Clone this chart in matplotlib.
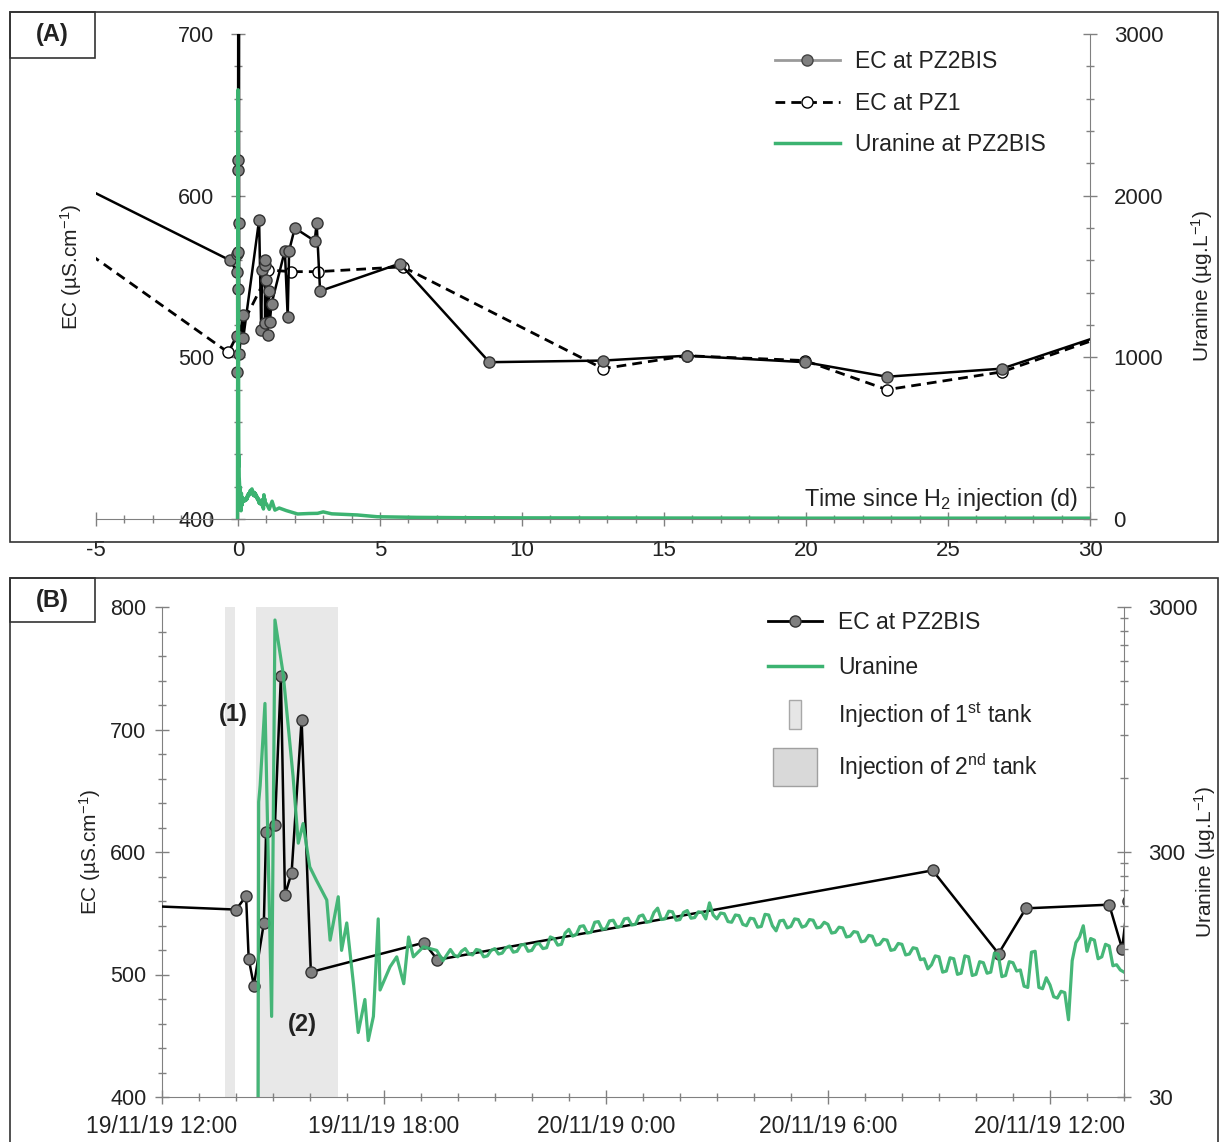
import numpy as np
import pandas as pd
import matplotlib
matplotlib.use('Agg')
import matplotlib.pyplot as plt
from matplotlib.patches import Rectangle
from matplotlib.lines import Line2D
from matplotlib.ticker import MultipleLocator, FixedLocator, FuncFormatter, NullFormatter
from matplotlib.legend_handler import HandlerPatch
import matplotlib.dates as mdates

plt.rcParams['font.family'] = ['Liberation Sans', 'DejaVu Sans']
plt.rcParams['mathtext.fontset'] = 'custom'
plt.rcParams['mathtext.rm'] = 'Liberation Sans'
plt.rcParams['mathtext.it'] = 'Liberation Sans:italic'
plt.rcParams['mathtext.bf'] = 'Liberation Sans:bold'
plt.rcParams['axes.unicode_minus'] = False

# ---------------- data ----------------
T0_B = pd.Timestamp('2019-11-19 12:00')   # origin of panel B (hours)
H2_START_H = 3.0                          # H2 injection, hours after T0_B

# EC at PZ2BIS, hours after T0_B (detailed record, panel B)
ec_pz2bis_h = [-3.7, 2.01, 2.28, 2.35, 2.49, 2.76, 2.82, 3.06, 3.22, 3.33, 3.51,
               3.78, 4.03, 7.09, 7.45, 20.83, 22.61, 23.35, 25.60, 25.95, 26.10]
ec_pz2bis_b = [560, 553, 564, 513, 491, 542, 616, 622, 744, 565, 583,
               708, 502, 526, 512, 585, 517, 554, 557, 521, 560]

# EC at PZ2BIS, days since H2 injection (before / after the detailed record)
ec_pz2bis_pre_d = [-7.0]
ec_pz2bis_pre = [619]
ec_pz2bis_post_d = [1.00, 1.04, 1.08, 1.12, 1.18, 1.65, 1.75, 1.80, 2.00, 2.70,
                    2.77, 2.89, 5.70, 8.85, 12.85, 15.80, 19.96, 22.85, 26.90, 31.0]
ec_pz2bis_post = [548, 514, 541, 522, 533, 566, 525, 566, 580, 572,
                  583, 541, 558, 497, 498, 501, 497, 488, 493, 517]

# EC at PZ1, days since H2 injection
ec_pz1_d = [-7.0, -0.34, 0.95, 1.07, 1.88, 2.82, 5.80, 12.85, 15.80, 19.96, 22.85, 26.90, 31.0]
ec_pz1 = [586, 503, 548, 554, 553, 553, 556, 493, 501, 498, 480, 491, 516]

# Uranine at PZ2BIS (ug/L), hours after T0_B: breakthrough, then logger record every 0.1 h
uran_peak_h = [2.60, 2.62, 2.66, 2.79, 2.97, 3.06, 3.28, 3.55, 3.69, 3.82, 4.00, 4.18,
               4.46, 4.55, 4.77, 4.86, 5.00, 5.18, 5.31, 5.49, 5.58, 5.72, 5.85, 5.90,
               6.17, 6.35, 6.54, 6.67, 6.80, 7.07, 7.43, 7.60]
uran_peak = [10, 480, 560, 1212, 64, 2655, 1608, 609, 326, 392, 261, 230,
             191, 131, 197, 119, 154, 87, 55, 75, 51, 64, 160, 82,
             102, 112, 87, 135, 112, 123, 119, 108]
uran_log_start_h, uran_log_step_h = 7.8, 0.1
uran_log = [120, 114, 112, 118, 121, 115, 114, 120, 119, 112, 113, 119, 121, 115, 116, 122,
            124, 117, 118, 125, 126, 118, 119, 126, 127, 121, 122, 135, 133, 125, 126, 140,
            145, 136, 138, 149, 150, 140, 141, 155, 156, 145, 146, 157, 158, 148, 149, 160,
            161, 151, 152, 164, 166, 155, 156, 170, 177, 159, 160, 172, 171, 158, 159, 170,
            173, 161, 162, 171, 170, 160, 186, 166, 160, 169, 168, 156, 155, 166, 165, 152,
            150, 161, 160, 148, 149, 167, 166, 150, 143, 157, 158, 147, 149, 160, 159, 148,
            150, 159, 158, 147, 148, 155, 152, 140, 141, 148, 147, 135, 136, 142, 141, 129,
            130, 137, 136, 125, 126, 132, 131, 119, 120, 127, 126, 114, 115, 122, 121, 109,
            110, 100, 104, 113, 112, 97, 98, 111, 110, 95, 96, 113, 112, 94, 95, 107,
            106, 96, 97, 116, 115, 93, 94, 107, 106, 98, 99, 85, 84, 117, 118, 84,
            83, 92, 86, 77, 76, 81, 80, 62, 108, 128, 135, 150, 118, 133, 131, 110,
            112, 126, 124, 103, 104, 99, 97]

# Uranine tail after the detailed record, days since H2 injection
uran_tail_d = [1.0, 1.1, 1.2, 1.3, 1.45, 1.7, 2.1, 2.5, 2.8, 3.0, 3.3, 3.8,
               4.2, 4.9, 5.5, 6.3, 8.0, 10.0, 15.0, 20.0, 25.0, 30.0]
uran_tail = [95, 60, 110, 55, 68, 52, 31, 34, 35, 44, 32, 28,
             25, 14, 12, 10, 8, 7, 6, 5, 5, 5]

# injection periods, hours after T0_B
tank1_h = (1.70, 1.98)
tank2_h = (2.55, 4.77)

GREEN = '#3cb371'
SPINE = '#808080'
TXT = '#222222'

uran_h = np.r_[uran_peak_h, uran_log_start_h + uran_log_step_h * np.arange(len(uran_log))]
uran = np.r_[uran_peak, uran_log]

W, H = 1226, 1142
fig = plt.figure(figsize=(W / 100, H / 100), dpi=100, facecolor='white')


def fbox(x0, y0, x1, y1):
    return [x0 / W, 1 - y1 / H, (x1 - x0) / W, (y1 - y0) / H]


# panel frames and labels
for (x0, y0, x1, y1) in [(10, 12, 1218, 542), (10, 578, 1218, 1160)]:
    fig.add_artist(Rectangle((x0 / W, 1 - y1 / H), (x1 - x0) / W, (y1 - y0) / H,
                             transform=fig.transFigure, fill=False, ec='#333333', lw=1.2))
for (x0, y0, x1, y1), lab in [((10, 12, 95, 58), '(A)'), ((10, 578, 95, 622), '(B)')]:
    fig.add_artist(Rectangle((x0 / W, 1 - y1 / H), (x1 - x0) / W, (y1 - y0) / H,
                             transform=fig.transFigure, fill=False, ec='#333333', lw=1.2))
    fig.text((x0 + x1) / 2 / W, 1 - (y0 + y1) / 2 / H, lab, ha='center', va='center',
             fontsize=17, fontweight='bold', color=TXT)


def style_ticks(ax, which_axes='both', size=16):
    ax.tick_params(axis=which_axes, which='major', direction='inout', length=10, width=1,
                   color=SPINE, labelcolor=TXT, labelsize=size)
    ax.tick_params(axis=which_axes, which='minor', direction='inout', length=6, width=1,
                   color=SPINE)


# ---------------- panel A ----------------
axA = fig.add_axes(fbox(96, 34, 1090, 519))
axA2 = axA.twinx()

h_arr = np.array(ec_pz2bis_h)
a_days = np.r_[ec_pz2bis_pre_d, (h_arr - H2_START_H) / 24.0, ec_pz2bis_post_d]
a_vals = np.r_[ec_pz2bis_pre, ec_pz2bis_b, ec_pz2bis_post]
axA.plot(a_days, a_vals, color='black', lw=1.8, marker='o', ms=8,
         mfc='#7f7f7f', mec='#333333', mew=1, zorder=3)
axA.plot(ec_pz1_d, ec_pz1, color='black', lw=2, ls=(0, (3.5, 2.2)), marker='o', ms=8,
         mfc='white', mec='black', mew=1, zorder=2)

u_days = np.r_[(uran_h - H2_START_H) / 24.0, uran_tail_d]
u_vals = np.r_[uran, uran_tail]
axA2.plot(u_days, u_vals, color=GREEN, lw=2.5)

axA.set_xlim(-5, 30)
axA.set_ylim(400, 700)
axA2.set_ylim(0, 3000)
axA.xaxis.set_major_locator(MultipleLocator(5))
axA.xaxis.set_minor_locator(MultipleLocator(1))
axA.yaxis.set_major_locator(MultipleLocator(100))
axA.yaxis.set_minor_locator(MultipleLocator(20))
axA2.yaxis.set_major_locator(MultipleLocator(1000))
axA2.yaxis.set_minor_locator(MultipleLocator(200))

axA.spines['left'].set_position(('data', 0))
for s in ['top', 'right']:
    axA.spines[s].set_visible(False)
for s in ['top', 'left', 'bottom']:
    axA2.spines[s].set_visible(False)
axA.spines['left'].set_color('#333333')
axA.spines['bottom'].set_color(SPINE)
axA2.spines['right'].set_color(SPINE)
style_ticks(axA)
style_ticks(axA2, 'y')
axA.tick_params(axis='y', which='major', pad=12, labelsize=15.5)
axA.tick_params(axis='x', which='major', pad=10)
axA2.tick_params(axis='y', which='major', pad=12)

axA.set_ylabel('EC (µS.cm$^{-1}$)', fontsize=15, color=TXT)
axA.yaxis.set_label_coords(-0.012, 0.52)
axA2.set_ylabel('Uranine (µg.L$^{-1}$)', fontsize=15, color=TXT)
axA2.yaxis.set_label_coords(1.1, 0.48)
axA.text(0.988, 0.041, 'Time since H$_2$ injection (d)', transform=axA.transAxes,
         ha='right', va='center', fontsize=16.8, color=TXT)

hA = [Line2D([], [], color='#9a9a9a', lw=2, marker='o', ms=8, mfc='#7f7f7f', mec='#444444'),
      Line2D([], [], color='black', lw=2, ls=(0, (3.5, 2.2)), marker='o', ms=8,
             mfc='white', mec='black'),
      Line2D([], [], color=GREEN, lw=2.5)]
legA = axA2.legend(hA, ['EC at PZ2BIS', 'EC at PZ1', 'Uranine at PZ2BIS'],
                   loc='upper left', bbox_to_anchor=(0.683, 0.966), frameon=False,
                   fontsize=16.5, handlelength=2.84, handletextpad=0.65, labelspacing=0.8,
                   borderpad=0, borderaxespad=0)
for t in legA.get_texts():
    t.set_color(TXT)

# ---------------- panel B ----------------
axB = fig.add_axes(fbox(161.7, 607, 1124, 1097))
axB2 = axB.twinx()


def to_time(hours):
    return (T0_B + pd.to_timedelta(np.asarray(hours, dtype=float), unit='h')).to_numpy()


axB.axvspan(to_time([tank1_h[0]])[0], to_time([tank1_h[1]])[0], color='#e8e8e8', zorder=0, lw=0)
axB.axvspan(to_time([tank2_h[0]])[0], to_time([tank2_h[1]])[0], color='#e8e8e8', zorder=0, lw=0)
axB.plot(to_time(ec_pz2bis_h), ec_pz2bis_b, color='black', lw=1.8, marker='o', ms=8,
         mfc='#7f7f7f', mec='#333333', mew=1, zorder=3)
axB2.plot(to_time(uran_h), uran, color=GREEN, lw=2.3, alpha=0.95)

axB.set_xlim(to_time([0])[0], to_time([26])[0])
axB.set_ylim(400, 800)
axB2.set_yscale('log')
axB2.set_ylim(30, 3000)
axB.yaxis.set_major_locator(MultipleLocator(100))
axB.yaxis.set_minor_locator(MultipleLocator(20))
axB2.yaxis.set_major_locator(FixedLocator([30, 300, 3000]))
axB2.yaxis.set_minor_locator(FixedLocator([30 * k for k in range(2, 10)] +
                                          [300 * k for k in range(2, 10)]))
axB2.yaxis.set_major_formatter(FuncFormatter(lambda v, p: f'{v:.0f}'))
axB2.yaxis.set_minor_formatter(NullFormatter())
axB.xaxis.set_major_locator(mdates.HourLocator(byhour=[0, 6, 12, 18]))
axB.xaxis.set_minor_locator(mdates.HourLocator())


def fmt_date(v, pos):
    d = mdates.num2date(v)
    return f'{d:%d/%m/%y} {d.hour}:{d:%M}'


axB.xaxis.set_major_formatter(FuncFormatter(fmt_date))

for s in ['top', 'right']:
    axB.spines[s].set_visible(False)
for s in ['top', 'left', 'bottom']:
    axB2.spines[s].set_visible(False)
axB.spines['left'].set_color(SPINE)
axB.spines['bottom'].set_color(SPINE)
axB2.spines['right'].set_color(SPINE)
style_ticks(axB)
style_ticks(axB2, 'y')
axB.tick_params(axis='y', which='major', pad=6, labelsize=15.5)
axB.tick_params(axis='x', which='major', pad=8, labelsize=16.5)
axB2.tick_params(axis='y', which='major', pad=12)

axB.set_ylabel('EC (µS.cm$^{-1}$)', fontsize=15, color=TXT)
axB.yaxis.set_label_coords(-0.061, 0.5)
axB2.set_ylabel('Uranine (µg.L$^{-1}$)', fontsize=15, color=TXT)
axB2.yaxis.set_label_coords(1.071, 0.48)

axB.text(to_time([1.93])[0], 712, '(1)', ha='center', va='center', fontsize=17,
         fontweight='bold', color=TXT)
axB.text(to_time([3.8])[0], 459, '(2)', ha='center', va='center', fontsize=17,
         fontweight='bold', color=TXT)


def tank1_patch(legend, orig_handle, xdescent, ydescent, width, height, fontsize):
    cx, cy = -xdescent + width / 2, -ydescent + height / 2
    return Rectangle((cx - 4, cy - 10.5), 8, 21)


def tank2_patch(legend, orig_handle, xdescent, ydescent, width, height, fontsize):
    cx, cy = -xdescent + width / 2, -ydescent + height / 2
    return Rectangle((cx - 16, cy - 13.5), 32, 27)


t1 = Rectangle((0, 0), 1, 1, fc='#e6e6e6', ec='#a8a8a8', lw=1)
t2 = Rectangle((0, 0), 1, 1, fc='#d9d9d9', ec='#a0a0a0', lw=1)
hB = [Line2D([], [], color='black', lw=2, marker='o', ms=8, mfc='#7f7f7f', mec='#333333'),
      Line2D([], [], color=GREEN, lw=2.5), t1, t2]
legB = axB2.legend(hB, ['EC at PZ2BIS', 'Uranine', 'Injection of 1$^{\\rm st}$ tank',
                        'Injection of 2$^{\\rm nd}$ tank'],
                   handler_map={t1: HandlerPatch(patch_func=tank1_patch),
                                t2: HandlerPatch(patch_func=tank2_patch)},
                   loc='upper left', bbox_to_anchor=(0.63, 0.992), frameon=False,
                   fontsize=16.5, handlelength=2.36, handletextpad=0.7, labelspacing=0.95,
                   borderpad=0, borderaxespad=0)
for t in legB.get_texts():
    t.set_color(TXT)

fig.savefig('out.png', dpi=100, facecolor='white')
